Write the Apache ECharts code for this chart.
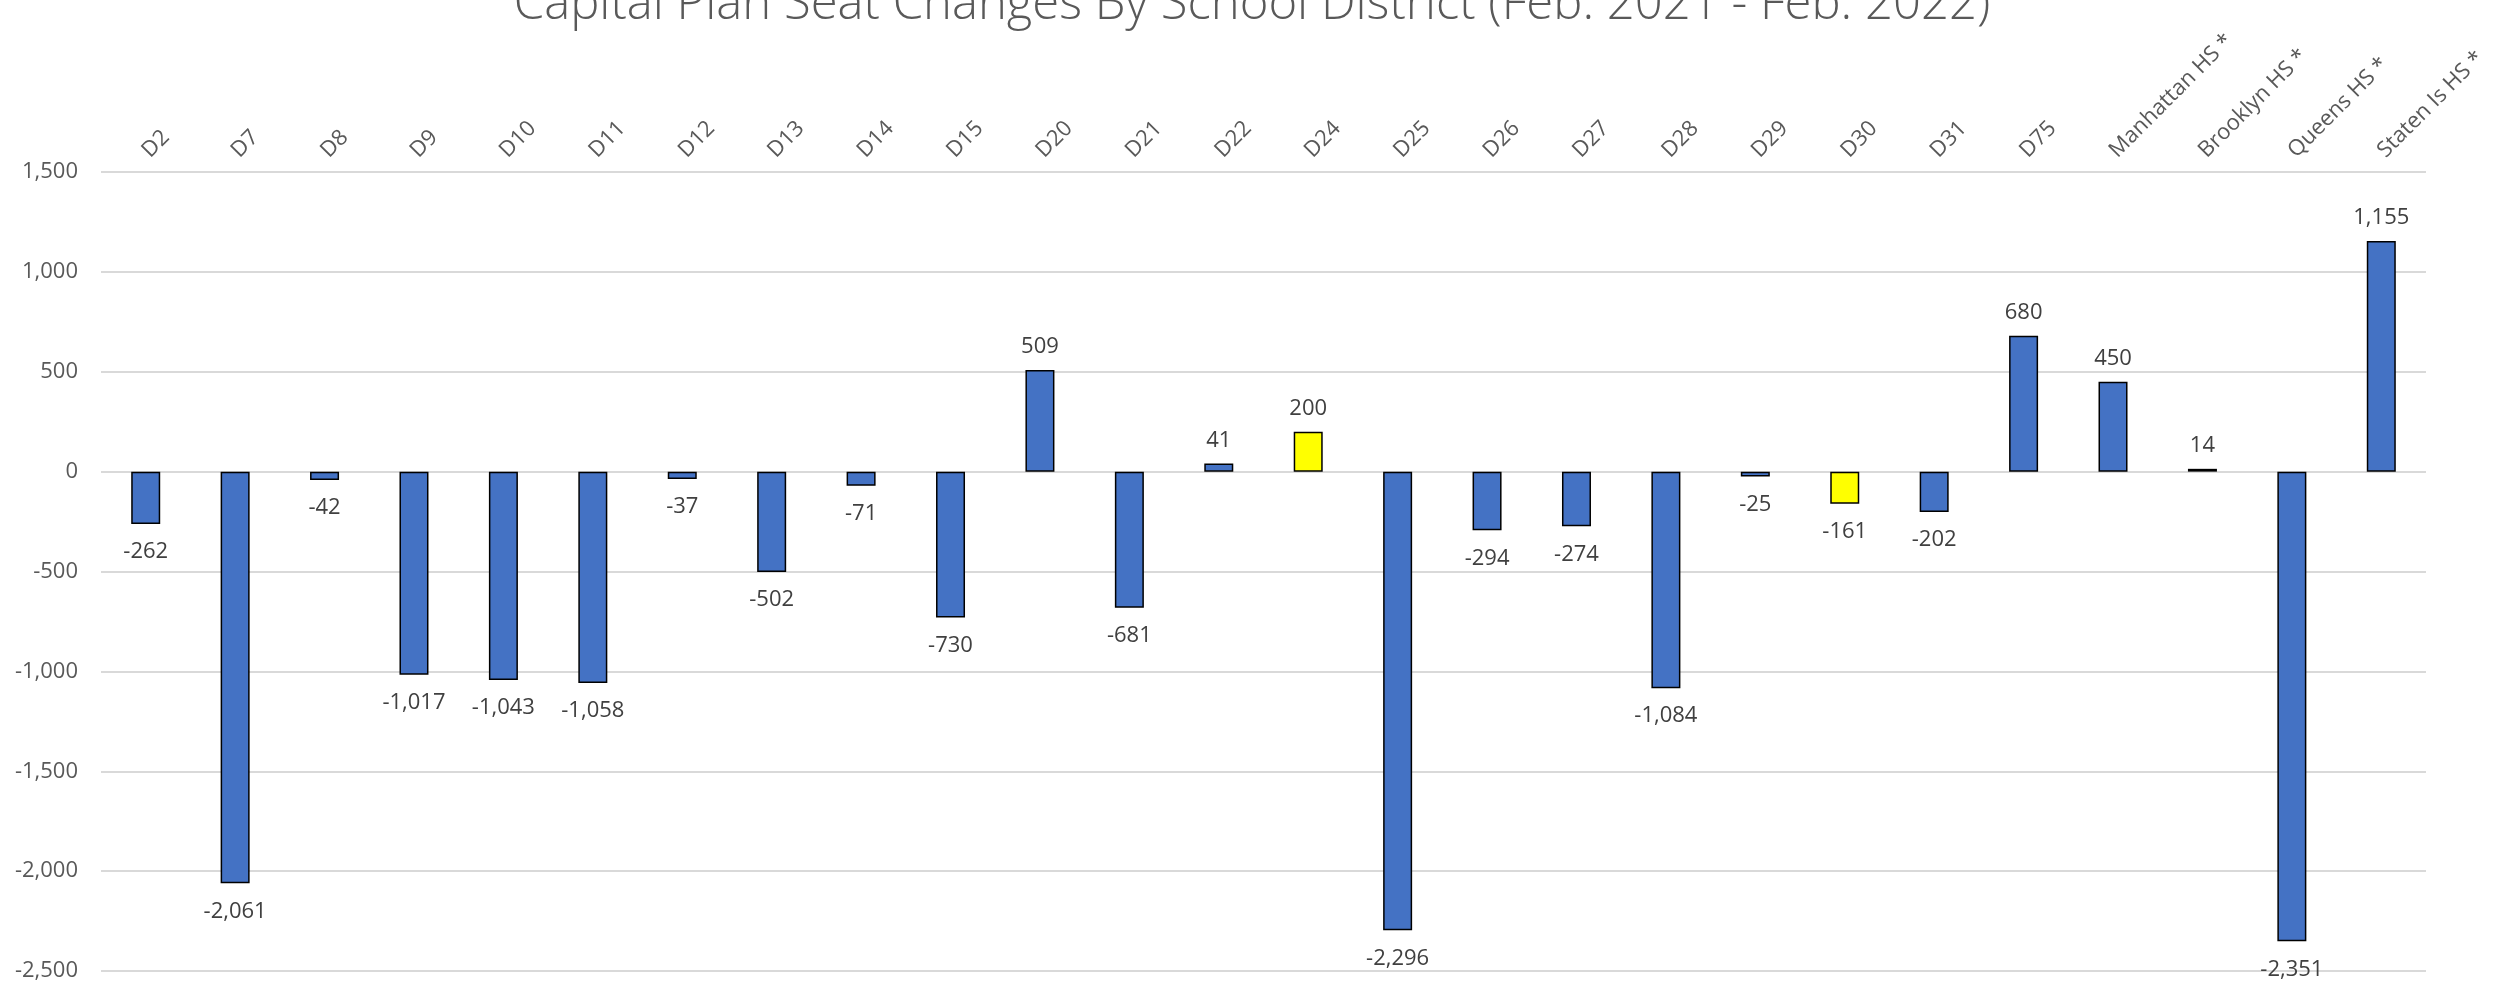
<!DOCTYPE html>
<html>
<head>
<meta charset="utf-8">
<title>Capital Plan Seat Changes</title>
<script src="https://cdn.jsdelivr.net/npm/echarts@6/dist/echarts.min.js"></script>
<style>
    html, body { margin: 0; padding: 0; background: #fff; }
    #chart { width: 2504px; height: 985px; }
</style>
</head>
<body>
<div id="chart"></div>
<script>
// districts, left to right
var districts = ["D2", "D7", "D8", "D9", "D10", "D11", "D12", "D13", "D14", "D15",
    "D20", "D21", "D22", "D24", "D25", "D26", "D27", "D28", "D29", "D30", "D31", "D75",
    "Manhattan HS *", "Brooklyn HS *", "Queens HS *", "Staten Is HS *"];

// seat change per district
var seatChanges = [-262, -2061, -42, -1017, -1043, -1058, -37, -502, -71, -730,
    509, -681, 41, 200, -2296, -294, -274, -1084, -25, -161, -202, 680,
    450, 14, -2351, 1155];

// districts drawn in yellow
var highlighted = ["D24", "D30"];

var yTicks = { min: -2500, max: 1500, step: 500 };

function fmt(v) {
    return v.toLocaleString("en-US");
}

var barData = [];
for (var i = 0; i < districts.length; i++) {
    var v = seatChanges[i];
    barData.push({
        value: v,
        itemStyle: { color: highlighted.indexOf(districts[i]) >= 0 ? "#FFFF00" : "#4472C4" },
        label: { position: v >= 0 ? "top" : "bottom", distance: v >= 0 ? 12 : 17 }
    });
}

var chart = echarts.init(document.getElementById("chart"));
chart.setOption({
    animation: false,
    backgroundColor: "#fff",
    title: {
        text: "Capital Plan Seat Changes By School District (Feb. 2021 - Feb. 2022)",
        left: "center",
        top: -24,
        textStyle: {
            fontFamily: "Open Sans",
            fontWeight: 300,
            fontSize: 49,
            color: "#595959"
        }
    },
    grid: {
        left: 101,
        right: 78,
        top: 172,
        bottom: 14
    },
    xAxis: {
        type: "category",
        position: "top",
        data: districts,
        axisLine: { show: false },
        axisTick: { show: false },
        axisLabel: {
            rotate: 45,
            margin: 18,
            interval: 0,
            fontFamily: "Open Sans",
            fontSize: 22,
            color: "#595959"
        }
    },
    yAxis: {
        type: "value",
        min: yTicks.min,
        max: yTicks.max,
        interval: yTicks.step,
        axisLine: { show: false },
        axisTick: { show: false },
        axisLabel: {
            margin: 23,
            fontFamily: "Open Sans",
            fontSize: 22,
            color: "#595959",
            formatter: fmt
        },
        splitLine: { lineStyle: { color: "#D9D9D9", width: 2 } }
    },
    series: [{
        type: "bar",
        data: barData,
        barWidth: 29,
        itemStyle: { borderColor: "#000", borderWidth: 1.5 },
        label: {
            show: true,
            fontFamily: "Open Sans",
            fontSize: 22,
            color: "#404040",
            formatter: function (p) { return fmt(p.value); }
        }
    }]
});
</script>
</body>
</html>
